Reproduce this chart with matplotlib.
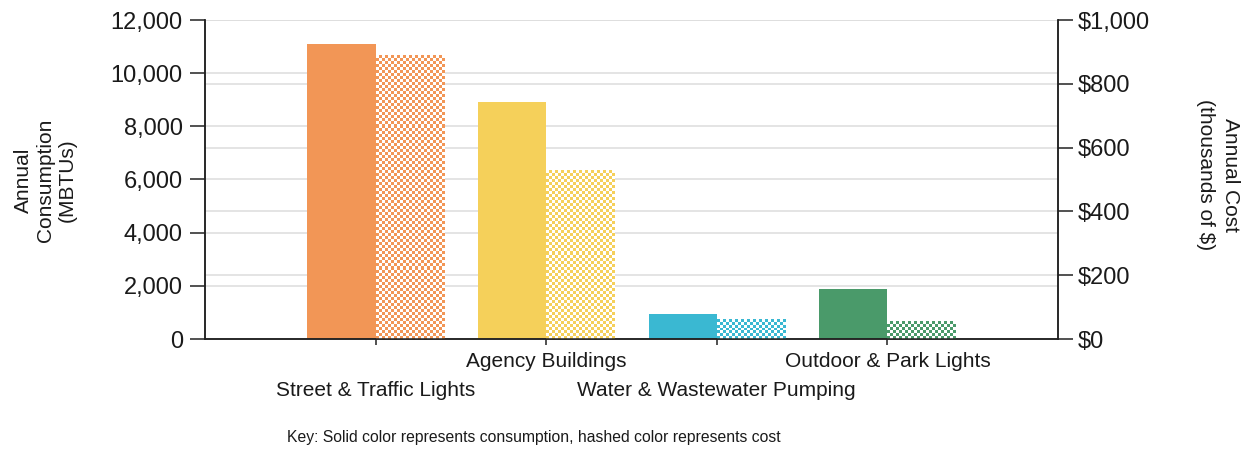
import numpy as np
import matplotlib.pyplot as plt
from matplotlib.colors import to_rgb
from matplotlib.lines import Line2D
from matplotlib.ticker import FuncFormatter

categories = ['Street & Traffic Lights', 'Agency Buildings',
              'Water & Wastewater Pumping', 'Outdoor & Park Lights']
consumption = [11100, 8920, 950, 1870]   # MBTUs
cost = [888, 528, 62, 55]                # thousands of $
colors = ['#F29656', '#F5D05A', '#3AB8D2', '#4A9A6A']

plt.rcParams['font.family'] = ['Liberation Sans', 'DejaVu Sans']
txt = '#1a1a1a'

fig = plt.figure(figsize=(12.43, 4.61), dpi=100)
ax = fig.add_axes([205 / 1243, 1 - 339 / 461, 853 / 1243, 319 / 461])
ax2 = ax.twinx()

x = np.arange(len(categories))
w = 0.4
ax.set_xlim(-1, len(categories))
ax.set_ylim(0, 12000)
ax2.set_ylim(0, 1000)
ax.set_yticks(np.arange(0, 12001, 2000))
ax2.set_yticks(np.arange(0, 1001, 200))

# grid lines of both scales, kept behind all bars
ax.set_axisbelow(True)
ax.yaxis.grid(True, color='#dddddd', linewidth=1.1)
for t in ax2.get_yticks()[1:]:
    ax.add_line(Line2D([0, 1], [t, t], transform=ax2.get_yaxis_transform(),
                       color='#dddddd', linewidth=1.1, zorder=0.5))

# consumption: solid bars
ax.bar(x - w / 2, consumption, w, color=colors, zorder=2)

# cost: checkerboard bars
cell = 3.0
for xi, v, c in zip(x + w / 2, cost, colors):
    x0, y0 = ax2.transData.transform((xi - w / 2, 0))
    x1, y1 = ax2.transData.transform((xi + w / 2, v))
    nx = max(1, int(round((x1 - x0) / cell)))
    ny = max(1, int(round((y1 - y0) / cell)))
    jj, ii = np.meshgrid(np.arange(nx), np.arange(ny))
    img = np.ones((ny, nx, 3))
    img[(ii + jj) % 2 == 0] = to_rgb(c)
    ax2.imshow(img, extent=(xi - w / 2, xi + w / 2, 0, v), aspect='auto',
               interpolation='nearest', origin='lower', zorder=2)
ax2.set_xlim(-1, len(categories))
ax2.set_ylim(0, 1000)

ax.yaxis.set_major_formatter(FuncFormatter(lambda v, p: f'{int(v):,}'))
ax2.yaxis.set_major_formatter(FuncFormatter(lambda v, p: f'${int(v):,}'))

for a in (ax, ax2):
    a.spines['top'].set_visible(False)
    for s in ('left', 'right', 'bottom'):
        a.spines[s].set_linewidth(1.1)
        a.spines[s].set_color('#222222')
ax.tick_params(axis='y', length=11, width=1.1, pad=5, labelsize=17, colors='#222222', labelcolor=txt)
ax2.tick_params(axis='y', length=11, width=1.1, pad=3, labelsize=17, colors='#222222', labelcolor=txt)
ax.set_xticks(x)
ax.set_xticklabels([])
ax.tick_params(axis='x', length=4, width=1.1, colors='#222222')

# staggered category labels
for i, name in enumerate(categories):
    yoff = -0.163 if i % 2 == 0 else -0.07
    ax.text(x[i], yoff, name, transform=ax.get_xaxis_transform(),
            ha='center', va='center', fontsize=15, color=txt)

fig.text(45 / 1243, 1 - 180 / 461, 'Annual\nConsumption\n(MBTUs)', rotation=90,
         ha='center', va='center', fontsize=15, color=txt, linespacing=1.2)
fig.text(1218 / 1243, 1 - 175 / 461, 'Annual Cost\n(thousands of $)', rotation=270,
         ha='center', va='center', fontsize=15, color=txt, linespacing=1.35)
fig.text(534 / 1243, 1 - 437 / 461,
         'Key: Solid color represents consumption, hashed color represents cost',
         ha='center', va='center', fontsize=11.3, color=txt)

fig.savefig('out.png', dpi=100)
